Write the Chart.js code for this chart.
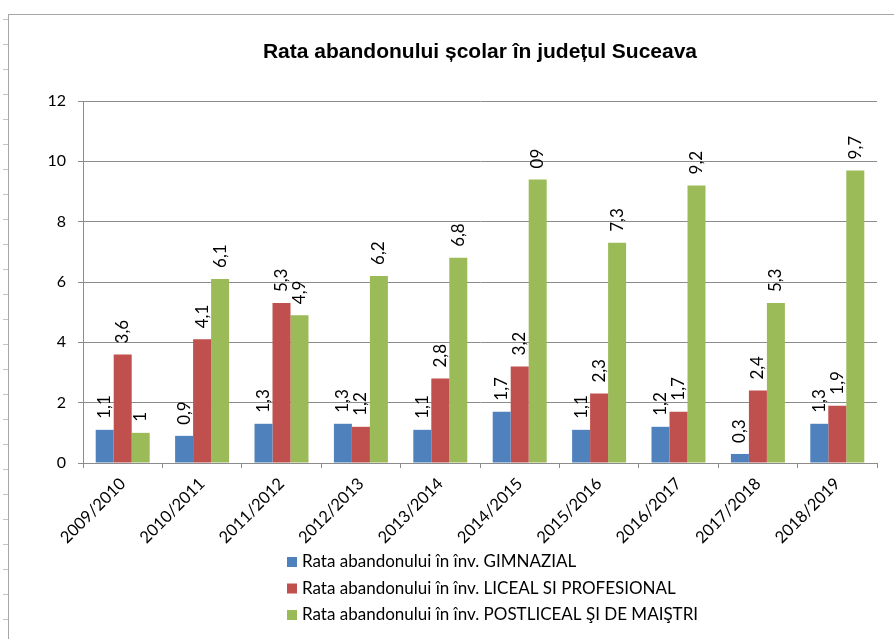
<!DOCTYPE html>
<html>
<head>
<meta charset="utf-8">
<title>Rata abandonului școlar</title>
<script src="https://cdn.jsdelivr.net/npm/chart.js@4/dist/chart.umd.min.js"></script>
<style>
  html, body { margin: 0; padding: 0; background: #fff; }
  #wrap { position: relative; width: 894px; height: 639px; overflow: hidden; }
  #frame { position: absolute; left: 8px; top: 14px; width: 1000px; height: 1000px; border: 1px solid #a6a6a6; }
  #marks { position: absolute; left: 3px; top: 0; width: 5px; height: 639px;
           background: repeating-linear-gradient(to bottom, transparent 0 19px, #c4c4c4 19px 20px, transparent 20px 25px); }
  #chart { position: absolute; left: 0; top: 0; }
</style>
</head>
<body>
<div id="wrap">
  <div id="marks"></div>
  <div id="frame"></div>
  <canvas id="chart" width="894" height="639"></canvas>
</div>
<script>
// date
var chartTitle = 'Rata abandonului școlar în județul Suceava';
var years = ['2009/2010', '2010/2011', '2011/2012', '2012/2013', '2013/2014',
             '2014/2015', '2015/2016', '2016/2017', '2017/2018', '2018/2019'];
var seriesNames = [
   'Rata abandonului în înv. GIMNAZIAL',
   'Rata abandonului în înv. LICEAL SI PROFESIONAL',
   'Rata abandonului în înv. POSTLICEAL ŞI DE MAIŞTRI'
];
var gimnazial = [1.1, 0.9, 1.3, 1.3, 1.1, 1.7, 1.1, 1.2, 0.3, 1.3];
var liceal    = [3.6, 4.1, 5.3, 1.2, 2.8, 3.2, 2.3, 1.7, 2.4, 1.9];
var postliceal = [1.0, 6.1, 4.9, 6.2, 6.8, 9.4, 7.3, 9.2, 5.3, 9.7];
// etichetele asa cum apar in imagine (una e scrisa "09")
var gimnazialLabels  = ['1,1', '0,9', '1,3', '1,3', '1,1', '1,7', '1,1', '1,2', '0,3', '1,3'];
var licealLabels     = ['3,6', '4,1', '5,3', '1,2', '2,8', '3,2', '2,3', '1,7', '2,4', '1,9'];
var postlicealLabels = ['1', '6,1', '4,9', '6,2', '6,8', '09', '7,3', '9,2', '5,3', '9,7'];
var yMin = 0, yMax = 12, yStep = 2;

var valueLabels = [gimnazialLabels, licealLabels, postlicealLabels];
var colors = ['#4F81BD', '#C0504D', '#9BBB59'];
var font = 'Lato, "Open Sans", sans-serif';

// titlul centrat pe zona de desen
var titlePlugin = {
   id: 'plotTitle',
   afterDraw: function(chart) {
      var ctx = chart.ctx, a = chart.chartArea;
      ctx.save();
      ctx.font = 'bold 21px "Liberation Sans", Arial, sans-serif';
      ctx.fillStyle = '#000';
      ctx.textAlign = 'center';
      ctx.textBaseline = 'middle';
      ctx.fillText(chartTitle, (a.left + a.right) / 2, 52);
      ctx.restore();
   }
};

// valori rotite deasupra coloanelor
var valuePlugin = {
   id: 'valueLabels',
   afterDatasetsDraw: function(chart) {
      var ctx = chart.ctx;
      ctx.save();
      ctx.font = '17px ' + font;
      ctx.fillStyle = '#000';
      chart.data.datasets.forEach(function(ds, i) {
         var meta = chart.getDatasetMeta(i);
         meta.data.forEach(function(bar, j) {
            ctx.save();
            ctx.translate(bar.x, bar.y - 11);
            ctx.rotate(-Math.PI / 2);
            ctx.textAlign = 'left';
            ctx.textBaseline = 'middle';
            ctx.fillText(valueLabels[i][j], 0, 0);
            ctx.restore();
         });
      });
      ctx.restore();
   }
};

// legenda pe verticala, sub axa
var legendPlugin = {
   id: 'stackedLegend',
   afterDraw: function(chart) {
      var ctx = chart.ctx;
      ctx.save();
      ctx.font = '17px ' + font;
      ctx.textBaseline = 'middle';
      ctx.textAlign = 'left';
      chart.data.datasets.forEach(function(ds, i) {
         var y = 562 + i * 26.5;
         ctx.fillStyle = ds.backgroundColor;
         ctx.fillRect(287, y - 5, 10, 10);
         ctx.fillStyle = '#000';
         ctx.fillText(ds.label, 302, y);
      });
      ctx.restore();
   }
};

var config = {
   type: 'bar',
   data: {
      labels: years,
      datasets: [
         { label: seriesNames[0], data: gimnazial, backgroundColor: colors[0] },
         { label: seriesNames[1], data: liceal, backgroundColor: colors[1] },
         { label: seriesNames[2], data: postliceal, backgroundColor: colors[2] }
      ]
   },
   options: {
      responsive: false,
      animation: false,
      layout: { padding: { left: 20, top: 101, right: 17, bottom: 0 } },
      datasets: { bar: { categoryPercentage: 0.68, barPercentage: 1.0, borderWidth: 0 } },
      plugins: {
         legend: { display: false },
         title: { display: false },
         tooltip: { enabled: false }
      },
      scales: {
         x: {
            afterFit: function(scale) { scale.height = 176; },
            grid: { offset: true, drawOnChartArea: false, color: '#8c8c8c', tickLength: 5 },
            border: { color: '#8c8c8c' },
            ticks: { minRotation: 45, maxRotation: 45, padding: 6, color: '#000', font: { family: font, size: 16.5 } }
         },
         y: {
            min: yMin, max: yMax,
            afterFit: function(scale) { scale.width = 63; },
            grid: { color: '#8c8c8c', tickLength: 5 },
            border: { color: '#8c8c8c' },
            ticks: { stepSize: yStep, padding: 12, color: '#000', font: { family: font, size: 16 } }
         }
      }
   },
   plugins: [titlePlugin, valuePlugin, legendPlugin]
};

window.abandonChart = new Chart(document.getElementById('chart'), config);
</script>
</body>
</html>
